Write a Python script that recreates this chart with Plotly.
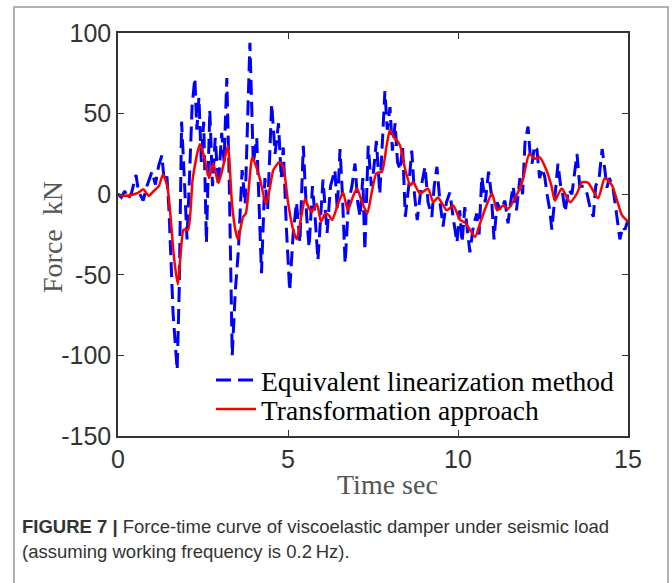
import plotly.graph_objects as go

# ---- data ----
blue_t = [0.00,0.10,0.20,0.30,0.40,0.53,0.60,0.74,0.85,1.00,1.10,1.20,1.29,1.36,1.44,1.50,1.62,1.74,1.80,1.87,
          1.95,2.03,2.10,2.18,2.26,2.32,2.38,2.45,2.52,2.60,2.70,2.78,2.86,2.95,3.05,3.12,3.20,3.27,3.36,3.45,
          3.54,3.65,3.74,3.88,3.98,4.08,4.22,4.32,4.40,4.52,4.62,4.72,4.80,4.86,4.95,5.05,5.15,5.25,5.35,5.45,
          5.55,5.62,5.72,5.80,5.88,5.96,6.03,6.15,6.25,6.38,6.45,6.53,6.60,6.68,6.78,6.88,6.97,7.05,7.12,7.20,
          7.26,7.36,7.45,7.52,7.60,7.70,7.78,7.85,7.92,8.00,8.07,8.15,8.22,8.30,8.37,8.45,8.55,8.64,8.72,8.80,
          8.92,9.03,9.12,9.23,9.30,9.38,9.47,9.56,9.66,9.76,9.86,9.97,10.05,10.12,10.20,10.28,10.35,10.45,10.55,10.62,
          10.70,10.80,10.90,10.98,11.06,11.15,11.25,11.38,11.47,11.55,11.62,11.72,11.82,11.90,11.97,12.06,12.12,12.18,12.25,12.32,
          12.40,12.47,12.55,12.62,12.70,12.76,12.85,12.94,13.02,13.08,13.15,13.25,13.35,13.45,13.50,13.58,13.70,13.80,13.90,13.98,
          14.05,14.15,14.24,14.32,14.38,14.45,14.55,14.65,14.76,14.85,14.91,15.00]
blue_f = [0,-2,2,-3,1,12,2,-4,5,14,6,18,24,8,11,-10,-74,-109,-60,45,
          10,-28,9,55,72,40,60,20,45,-30,52,5,35,5,38,20,72,10,-100,-60,
          -35,15,-6,94,19,35,-49,10,-10,56,25,44,10,29,-20,-60,-25,-5,-30,30,
          -14,-33,5,-15,-41,-10,9,-24,5,15,-10,28,0,-43,-5,5,19,-5,-14,10,
          -35,30,5,15,33,0,35,64,40,54,27,44,20,15,30,-14,5,27,0,-16,
          5,17,-5,-14,5,17,-5,-20,-5,1,-15,-30,-10,-30,-8,-25,-36,-20,-12,-25,
          11,-5,14,0,-28,-5,-10,-4,-18,-5,5,-10,10,0,32,42,25,19,30,28,
          10,16,11,0,-10,-22,0,19,5,0,-11,3,0,15,25,5,5,0,-10,-14,
          5,10,28,15,4,10,5,-10,-28,-20,-22,-16]

red_t = [0.0,0.2,0.4,0.6,0.75,0.9,1.05,1.2,1.32,1.45,1.55,1.65,1.76,1.85,1.93,2.06,2.2,2.41,2.55,2.68,
         2.8,2.95,3.1,3.23,3.35,3.45,3.53,3.68,3.76,3.95,4.05,4.18,4.35,4.45,4.57,4.75,4.86,5.0,5.15,5.26,
         5.38,5.5,5.6,5.7,5.85,5.97,6.1,6.2,6.3,6.47,6.62,6.76,6.9,7.03,7.18,7.33,7.47,7.6,7.76,7.9,
         8.0,8.12,8.2,8.3,8.45,8.6,8.68,8.88,9.12,9.27,9.41,9.67,9.86,10.06,10.2,10.35,10.5,10.65,10.8,11.0,
         11.15,11.33,11.47,11.68,11.9,12.1,12.27,12.4,12.6,12.75,12.85,13.05,13.3,13.5,13.65,13.83,14.12,14.32,14.53,14.68,
         14.82,15.0]
red_f = [0,-1,-0.5,1,3,-1,2,5,12,5,-15,-40,-56,-35,-22,-22,10,31,22,10,
         19,7,18,30,-5,-22,-28,-14,-12,23,18,9,-6,2,15,20,17,-5,-22,-28,
         -15,-3,-8,-11,-6,-17,-12,-13,-16,-6,1,-10,-2,3.5,-5,-12,2,13,14,30,
         40,35,33.5,30,15,5.5,7.5,0.5,3.5,-5,-2,-10,-7,-16,-17.5,-22,-26.5,-18,-9,0.5,
         -10,-7,-9,-2.5,8.5,25,22,23,15,5,-4,3.5,-5,0.5,7.5,7,-2.5,10,5.5,-4,
         -13,-17]

x_ticks = [0, 5, 10, 15]
x_ticklabels = ["0", "5", "10", "15"]
y_ticks = [-150, -100, -50, 0, 50, 100]
y_ticklabels = ["-150", "-100", "-50", "0", "50", "100"]
series_names = ["Equivalent linearization method", "Transformation approach"]
x_title = "Time sec"
y_title = "Force  kN"
caption1 = "<b>FIGURE 7 |</b> Force-time curve of viscoelastic damper under seismic load"
caption2 = "(assuming working frequency is 0.2\u2009Hz)."

SERIF = "Liberation Serif, Times New Roman, serif"
SANS = "Liberation Sans, Arial, sans-serif"

W, H = 672, 583
L, R, T, B = 118, 628, 33, 436  # plot area in pixels


def px(x):
    return (x - L) / (R - L)


def py(y):
    return (B - y) / (B - T)


fig = go.Figure()
fig.add_trace(go.Scatter(x=blue_t, y=blue_f, mode="lines", name=series_names[0], legend="legend",
                         line=dict(color="#0000ff", width=3, dash="15px,7px")))
fig.add_trace(go.Scatter(x=red_t, y=red_f, mode="lines", name=series_names[1], legend="legend2",
                         line=dict(color="#ff0000", width=2.5, shape="spline", smoothing=0.6)))

axis_common = dict(showgrid=False, zeroline=False, showline=True, linecolor="#333333", linewidth=1.5,
                   mirror="ticks", ticks="inside", ticklen=6, tickwidth=1.3, tickcolor="#333333",
                   tickfont=dict(family=SANS, size=25, color="#333333"))

legend_common = dict(xanchor="left", yanchor="middle", bgcolor="rgba(0,0,0,0)", borderwidth=0,
                     font=dict(family=SERIF, size=27.5, color="black"), itemwidth=40)

fig.update_layout(
    width=W, height=H,
    margin=dict(l=L, r=W - R, t=T, b=H - B, pad=0),
    paper_bgcolor="white", plot_bgcolor="white",
    xaxis=dict(range=[0, 15], tickvals=x_ticks, ticktext=x_ticklabels, **axis_common),
    yaxis=dict(range=[-150, 100], tickvals=y_ticks, ticktext=y_ticklabels, **axis_common),
    showlegend=True,
    legend=dict(x=px(211), y=py(380), **legend_common),
    legend2=dict(x=px(211), y=py(409), **legend_common),
)

annotations = [
    dict(text=y_title, x=px(52), y=py(237), xref="paper", yref="paper", textangle=-90,
         xanchor="center", yanchor="middle",
         showarrow=False, font=dict(family=SERIF, size=28, color="#555555")),
    dict(text=x_title, x=px(387), y=py(485), xref="paper", yref="paper",
         xanchor="center", yanchor="middle",
         showarrow=False, font=dict(family=SERIF, size=28, color="#555555")),
    dict(text=caption1, x=px(20), y=py(526), xref="paper", yref="paper", xanchor="left", yanchor="middle",
         showarrow=False, font=dict(family=SANS, size=18.5, color="#333333")),
    dict(text=caption2, x=px(20), y=py(551), xref="paper", yref="paper", xanchor="left", yanchor="middle",
         showarrow=False, font=dict(family=SANS, size=18.5, color="#333333")),
]
fig.update_layout(annotations=annotations)

fig.add_shape(type="rect", xref="paper", yref="paper",
              x0=px(14), x1=px(668), y0=py(600), y1=py(7),
              line=dict(color="#999999", width=1.5), fillcolor="rgba(0,0,0,0)", layer="below")

fig.write_html("out.html", config={"displayModeBar": False},
               post_script="document.body.style.margin='0';")
